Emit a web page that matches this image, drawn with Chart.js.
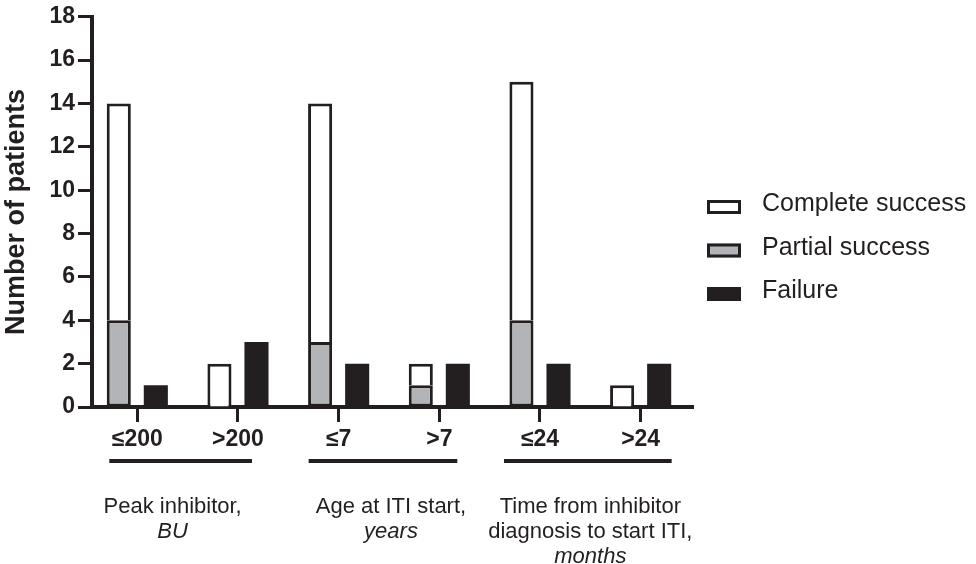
<!DOCTYPE html>
<html>
<head>
<meta charset="utf-8">
<script src="https://cdn.jsdelivr.net/npm/chart.js@4.4.1/dist/chart.umd.min.js"></script>
<style>
  html, body { margin: 0; padding: 0; background: #fff; }
  #chart { display: block; }
</style>
</head>
<body>
<canvas id="chart" width="976" height="564"></canvas>
<script>
// categories (pairs belong to one grouping)
const categories = ['≤200', '>200', '≤7', '>7', '≤24', '>24'];
const groupTitles = [['Peak inhibitor,'], ['Age at ITI start,'], ['Time from inhibitor', 'diagnosis to start ITI,']];
const groupUnits = ['BU', 'years', 'months'];

// number of patients per outcome
const partialSuccess = [4, 0, 3, 1, 4, 0];
const completeSuccess = [10, 2, 11, 1, 11, 1];
const failure = [1, 3, 2, 2, 2, 2];

const yTicks = [0, 2, 4, 6, 8, 10, 12, 14, 16, 18];

const INK = '#231f20';
const GREY = '#b3b4b7';
const FONT = '"Liberation Sans", Arial, sans-serif';

const legendItems = [
  { text: 'Complete success', fill: '#ffffff' },
  { text: 'Partial success', fill: GREY },
  { text: 'Failure', fill: INK }
];

const toPoints = arr => arr.map((v, i) => ({ x: i, y: v }));

const extras = {
  id: 'extras',
  afterDraw(chart) {
    const ctx = chart.ctx;
    const x = chart.scales.x;
    ctx.save();
    // group underlines + group titles
    const spans = [[-28, 14], [-30, 18], [-36, 31]];
    const shift = [-15, 2, 0];
    groupTitles.forEach((lines, g) => {
      const x0 = x.getPixelForValue(2 * g);
      const x1 = x.getPixelForValue(2 * g + 1);
      ctx.strokeStyle = INK;
      ctx.lineWidth = 4;
      ctx.beginPath();
      ctx.moveTo(x0 + spans[g][0], 461);
      ctx.lineTo(x1 + spans[g][1], 461);
      ctx.stroke();
      const cx = (x0 + x1) / 2 + shift[g];
      ctx.fillStyle = INK;
      ctx.textAlign = 'center';
      ctx.textBaseline = 'alphabetic';
      let y = 513;
      ctx.font = '22px ' + FONT;
      lines.forEach(l => { ctx.fillText(l, cx, y); y += 25; });
      ctx.font = 'italic 22px ' + FONT;
      ctx.fillText(groupUnits[g], cx, y);
    });
    // legend
    let ly = 207;
    legendItems.forEach(item => {
      ctx.fillStyle = item.fill;
      ctx.fillRect(707, ly - 7, 34, 14);
      ctx.strokeStyle = INK;
      ctx.lineWidth = 3;
      ctx.strokeRect(708.5, ly - 5.5, 31, 11);
      ctx.fillStyle = INK;
      ctx.textAlign = 'left';
      ctx.textBaseline = 'alphabetic';
      ctx.font = '25px ' + FONT;
      ctx.fillText(item.text, 762, ly + 4);
      ly += 43.5;
    });
    ctx.restore();
  }
};

new Chart(document.getElementById('chart'), {
  type: 'bar',
  data: {
    datasets: [
      {
        label: 'Partial success',
        data: toPoints(partialSuccess),
        stack: 'success',
        backgroundColor: GREY,
        borderColor: INK,
        borderWidth: 3,
        borderSkipped: false
      },
      {
        label: 'Complete success',
        data: toPoints(completeSuccess),
        stack: 'success',
        backgroundColor: '#ffffff',
        borderColor: INK,
        borderWidth: 3,
        borderSkipped: 'bottom'
      },
      {
        label: 'Failure',
        data: toPoints(failure),
        stack: 'failure',
        backgroundColor: INK,
        borderWidth: 0
      }
    ]
  },
  options: {
    responsive: false,
    animation: false,
    categoryPercentage: 0.736,
    barPercentage: 0.65,
    layout: { padding: { left: 0, right: 283, top: 4, bottom: 0 } },
    plugins: {
      legend: { display: false },
      tooltip: { enabled: false }
    },
    scales: {
      x: {
        type: 'linear',
        min: -0.45,
        max: 5.52,
        offset: false,
        stacked: true,
        z: 1,
        afterBuildTicks(s) { s.ticks = categories.map((c, i) => ({ value: i })); },
        border: { display: true, width: 4, color: INK },
        grid: { display: true, drawOnChartArea: false, offset: false, tickLength: 15, tickWidth: 3, tickColor: INK },
        ticks: {
          color: INK,
          font: { family: FONT, size: 23, weight: 'bold' },
          padding: 4,
          maxRotation: 0,
          autoSkip: false,
          callback: v => categories[v]
        },
        afterFit(s) { s.height = 157; }
      },
      y: {
        stacked: true,
        min: 0,
        max: 18,
        z: 1,
        afterBuildTicks(s) { s.ticks = yTicks.map(v => ({ value: v })); },
        border: { display: true, width: 4, color: INK },
        grid: { display: true, drawOnChartArea: false, tickLength: 14, tickWidth: 3, tickColor: INK },
        ticks: { color: INK, font: { family: FONT, size: 23, weight: 'bold' }, padding: 3 },
        title: { display: true, text: 'Number of patients', color: INK, font: { family: FONT, size: 27, weight: 'bold' }, padding: { top: 0, bottom: 0 } },
        afterFit(s) { s.width = 92; }
      }
    }
  },
  plugins: [extras]
});
</script>
</body>
</html>
